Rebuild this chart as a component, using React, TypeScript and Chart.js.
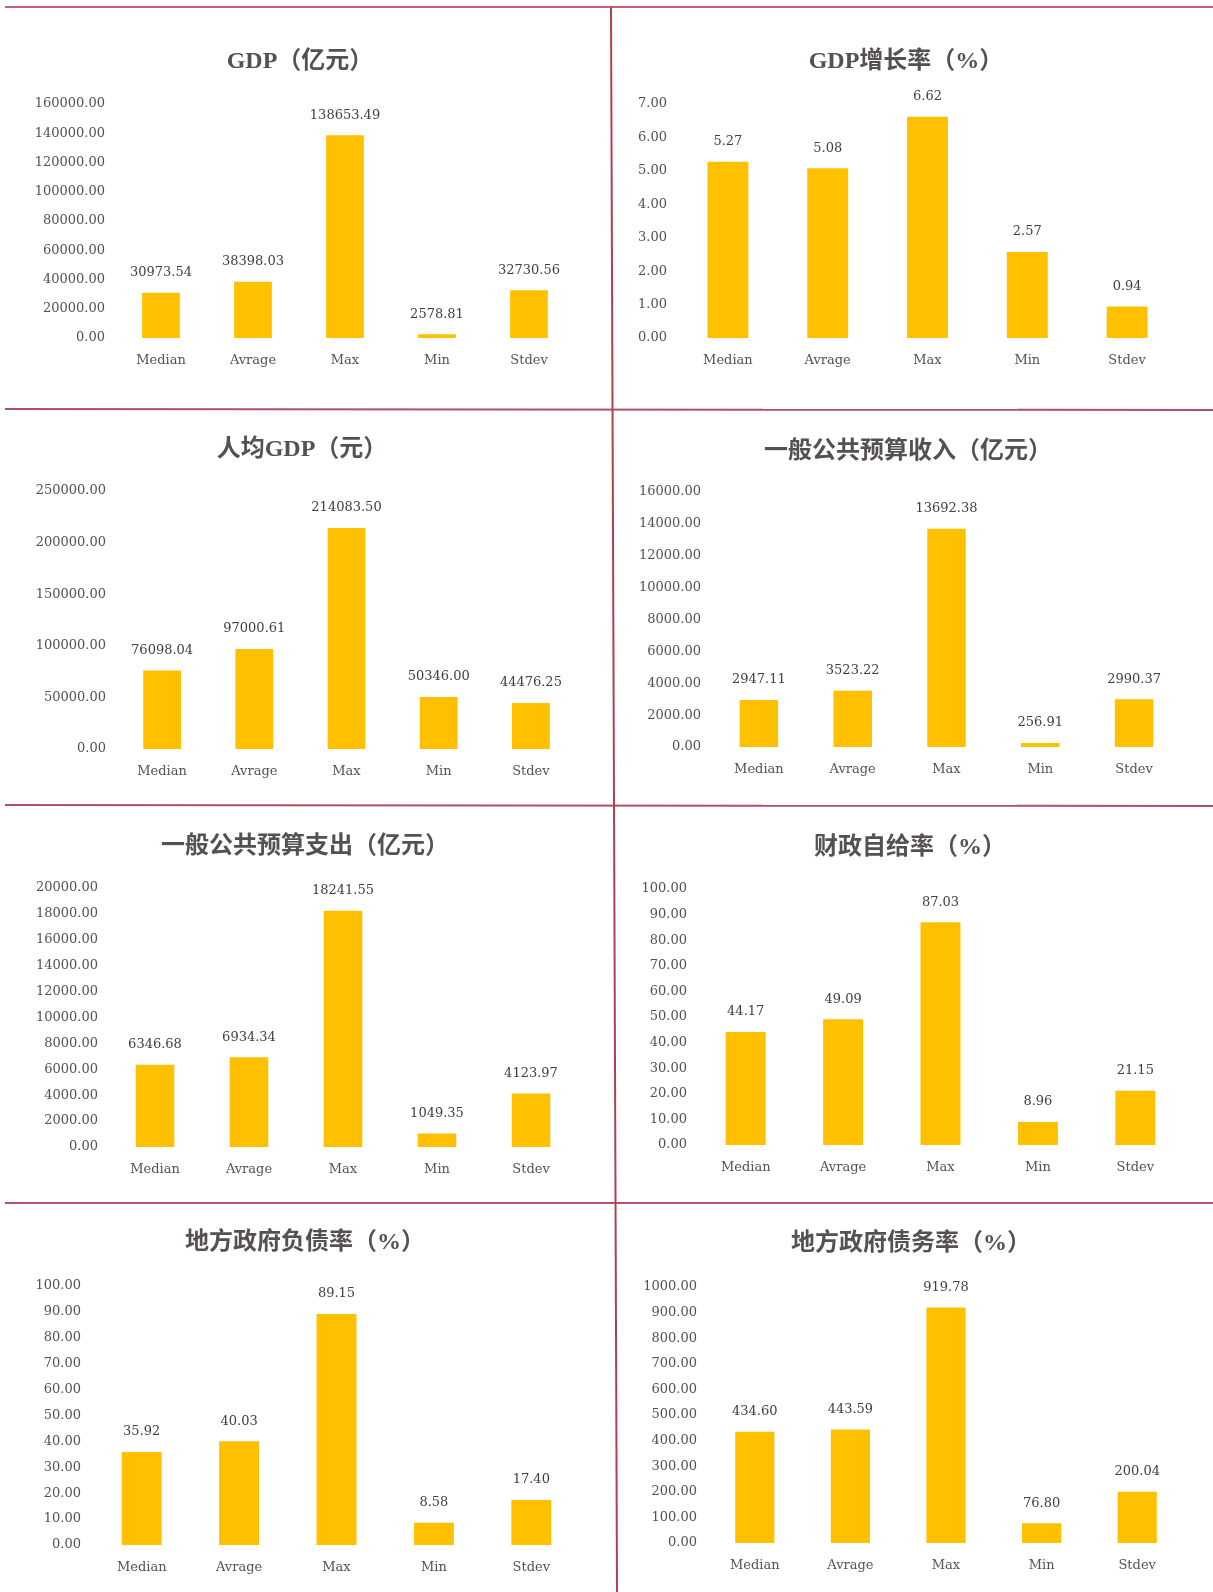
import React, { useEffect, useRef } from 'react';
import { Chart, registerables } from 'chart.js';

Chart.register(...registerables);

// ---------- data ----------
const categories = ['Median', 'Avrage', 'Max', 'Min', 'Stdev'];

const gdpValues = [30973.54, 38398.03, 138653.49, 2578.81, 32730.56];
const gdpGrowthValues = [5.27, 5.08, 6.62, 2.57, 0.94];
const gdpPerCapitaValues = [76098.04, 97000.61, 214083.5, 50346.0, 44476.25];
const budgetRevenueValues = [2947.11, 3523.22, 13692.38, 256.91, 2990.37];
const budgetExpenditureValues = [6346.68, 6934.34, 18241.55, 1049.35, 4123.97];
const selfSufficiencyValues = [44.17, 49.09, 87.03, 8.96, 21.15];
const liabilityRateValues = [35.92, 40.03, 89.15, 8.58, 17.4];
const debtRateValues = [434.6, 443.59, 919.78, 76.8, 200.04];

const panelTitles = [
  'GDP（亿元）',
  'GDP增长率（%）',
  '人均GDP（元）',
  '一般公共预算收入（亿元）',
  '一般公共预算支出（亿元）',
  '财政自给率（%）',
  '地方政府负债率（%）',
  '地方政府债务率（%）',
];

const axisMax = [160000, 7, 250000, 16000, 20000, 100, 100, 1000];
const axisStep = [20000, 1, 50000, 2000, 2000, 10, 10, 100];

const seriesList = [
  gdpValues,
  gdpGrowthValues,
  gdpPerCapitaValues,
  budgetRevenueValues,
  budgetExpenditureValues,
  selfSufficiencyValues,
  liabilityRateValues,
  debtRateValues,
];

// ---------- layout (positions only) ----------
type Layout = {
  box: [number, number, number, number];
  left: number;
  right: number;
  top: number;
  bottom: number;
  labelRight: number;
  titleX: number;
  titleY: number;
};

const layouts: Layout[] = [
  { box: [0, 10, 611, 397], left: 115, right: 575, top: 104, bottom: 338, labelRight: 105, titleX: 300, titleY: 62 },
  { box: [614, 10, 599, 397], left: 678, right: 1177, top: 104, bottom: 338, labelRight: 667, titleX: 906, titleY: 62 },
  { box: [0, 412, 611, 391], left: 116, right: 577, top: 491, bottom: 749, labelRight: 106, titleX: 302, titleY: 450 },
  { box: [614, 412, 599, 391], left: 712, right: 1181, top: 492, bottom: 747, labelRight: 701, titleX: 908, titleY: 452 },
  { box: [0, 808, 611, 393], left: 108, right: 578, top: 888, bottom: 1147, labelRight: 98, titleX: 305, titleY: 847 },
  { box: [614, 808, 599, 393], left: 697, right: 1184, top: 889, bottom: 1145, labelRight: 687, titleX: 910, titleY: 848 },
  { box: [0, 1206, 611, 386], left: 93, right: 580, top: 1286, bottom: 1545, labelRight: 81, titleX: 305, titleY: 1243 },
  { box: [614, 1206, 599, 386], left: 707, right: 1185, top: 1287, bottom: 1543, labelRight: 697, titleX: 911, titleY: 1244 },
];

const BAR_COLOR = '#FFC000';
const TEXT_COLOR = '#555055';
const VALUE_COLOR = '#404040';
const SERIF = '"DejaVu Serif", "Liberation Serif", serif';
const TITLE_FONT = 'bold 24px "Liberation Serif", "Noto Sans CJK SC", serif';
const X_AXIS_H = 40;

function Panel({ index }: { index: number }) {
  const ref = useRef<HTMLCanvasElement | null>(null);
  const lay = layouts[index];
  const [bx, by, bw, bh] = lay.box;

  useEffect(() => {
    if (!ref.current) return;
    const values = seriesList[index];
    const titlePlugin = {
      id: 'panelTitle' + index,
      afterDraw(chart: any) {
        const ctx = chart.ctx;
        ctx.save();
        ctx.font = TITLE_FONT;
        ctx.fillStyle = TEXT_COLOR;
        ctx.textAlign = 'center';
        ctx.textBaseline = 'middle';
        ctx.fillText(panelTitles[index], lay.titleX - bx, lay.titleY - by);
        ctx.restore();
      },
    };
    const valuePlugin = {
      id: 'valueLabels' + index,
      afterDatasetsDraw(chart: any) {
        const ctx = chart.ctx;
        const meta = chart.getDatasetMeta(0);
        const data = chart.data.datasets[0].data as number[];
        ctx.save();
        ctx.font = '13px ' + SERIF;
        ctx.fillStyle = VALUE_COLOR;
        ctx.textAlign = 'center';
        ctx.textBaseline = 'middle';
        meta.data.forEach((bar: any, i: number) => {
          ctx.fillText(Number(data[i]).toFixed(2), bar.x, bar.y - 20);
        });
        ctx.restore();
      },
    };

    const chart = new Chart(ref.current, {
      type: 'bar',
      data: {
        labels: categories,
        datasets: [
          {
            data: values,
            backgroundColor: BAR_COLOR,
            borderWidth: 0,
            barPercentage: 0.41,
            categoryPercentage: 1,
          },
        ],
      },
      options: {
        responsive: false,
        animation: false,
        devicePixelRatio: 1,
        layout: {
          padding: {
            left: 0,
            top: lay.top - by,
            right: bx + bw - lay.right,
            bottom: by + bh - lay.bottom - X_AXIS_H,
          },
        },
        plugins: {
          legend: { display: false },
          tooltip: { enabled: false },
          title: { display: false },
        },
        scales: {
          x: {
            grid: { display: false, drawTicks: false },
            border: { display: false },
            ticks: {
              color: TEXT_COLOR,
              font: { family: SERIF, size: 13 },
              padding: 15,
              maxRotation: 0,
              autoSkip: false,
            },
            afterFit: (s: any) => {
              s.height = X_AXIS_H;
            },
          },
          y: {
            min: 0,
            max: axisMax[index],
            grid: { display: false, drawTicks: false },
            border: { display: false },
            ticks: {
              stepSize: axisStep[index],
              color: TEXT_COLOR,
              font: { family: SERIF, size: 13 },
              padding: lay.left - lay.labelRight,
              autoSkip: false,
              callback: (v: any) => Number(v).toFixed(2),
            },
            afterFit: (s: any) => {
              s.width = lay.left - bx;
            },
          },
        },
      },
      plugins: [titlePlugin, valuePlugin],
    } as any);
    return () => chart.destroy();
  }, [index]);

  return (
    <canvas
      ref={ref}
      width={bw}
      height={bh}
      style={{ position: 'absolute', left: bx, top: by, width: bw, height: bh }}
    />
  );
}

export default function App() {
  return (
    <div
      style={{
        position: 'absolute',
        left: 0,
        top: 0,
        width: 1213,
        height: 1592,
        background: '#ffffff',
        overflow: 'hidden',
      }}
    >
      {layouts.map((_, i) => (
        <Panel key={i} index={i} />
      ))}
      <svg
        width={1213}
        height={1592}
        style={{ position: 'absolute', left: 0, top: 0, pointerEvents: 'none' }}
      >
        <line x1={5} y1={7} x2={1213} y2={7} stroke="#c86078" strokeWidth={2} />
        <line x1={5} y1={409} x2={1213} y2={410} stroke="#b05060" strokeWidth={2} />
        <line x1={5} y1={805} x2={1213} y2={806} stroke="#b05060" strokeWidth={2} />
        <line x1={5} y1={1203} x2={1213} y2={1203} stroke="#b8506a" strokeWidth={2} />
        <line x1={611} y1={7} x2={617} y2={1592} stroke="#b04050" strokeWidth={2} />
      </svg>
    </div>
  );
}
